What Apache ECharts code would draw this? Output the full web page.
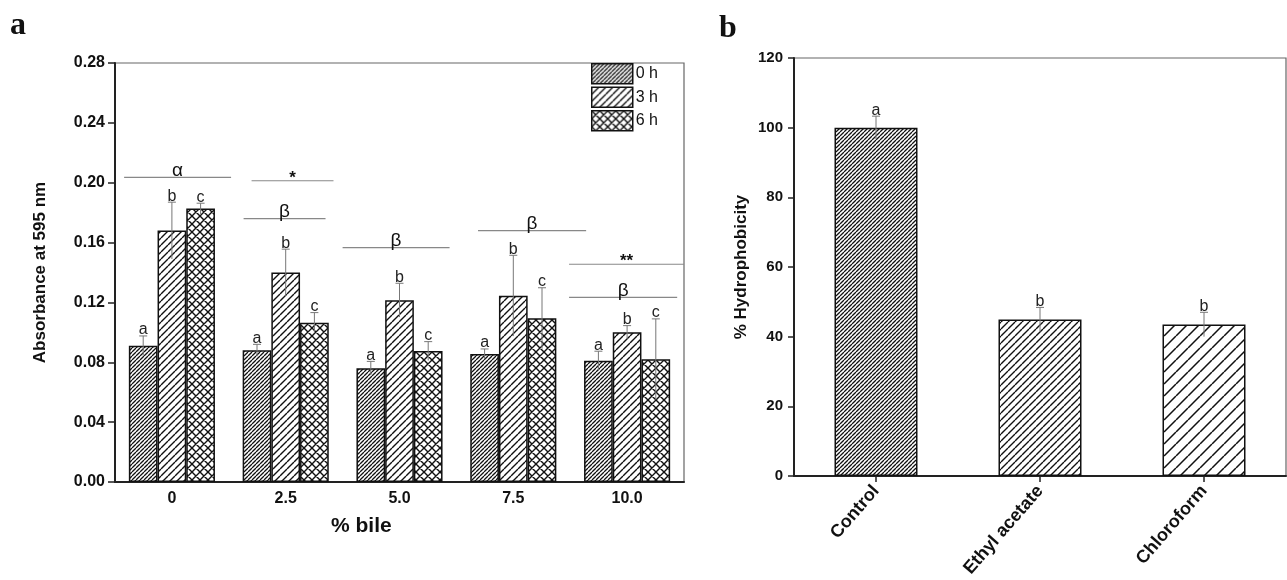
<!DOCTYPE html>
<html>
<head>
	<title>bile tolerance / hydrophobicity</title>
	<script src="https://cdn.jsdelivr.net/npm/echarts@6/dist/echarts.min.js"></script>
	<style>
	html, body { margin: 0; padding: 0; background: #fff; }
	#main { width: 1287px; height: 580px; }
	</style>
</head>
<body>
<div id="main"></div>
<script>
	// panel a data
	var bileLevels = ['0', '2.5', '5.0', '7.5', '10.0'];
	var timeNames = ['0 h', '3 h', '6 h'];
	var mean0h = [0.091, 0.088, 0.076, 0.0855, 0.081];
	var mean3h = [0.168, 0.140, 0.1215, 0.1245, 0.100];
	var mean6h = [0.1827, 0.1065, 0.0875, 0.1094, 0.082];
	var sd0h = [0.0066, 0.004, 0.0046, 0.0034, 0.0064];
	var sd3h = [0.019, 0.0156, 0.0113, 0.027, 0.0045];
	var sd6h = [0.0036, 0.0067, 0.0063, 0.0204, 0.027];
	var timeLetters = ['a', 'b', 'c'];
	// significance bars: [from, to, y, label]  (from/to in category units)
	var sigBars = [
		[-0.42, 0.52, 0.2036, 'α'],
		[0.70, 1.42, 0.2013, '*'],
		[0.63, 1.35, 0.1760, 'β'],
		[1.50, 2.44, 0.1566, 'β'],
		[2.69, 3.64, 0.1680, 'β'],
		[3.49, 4.50, 0.1455, '**'],
		[3.49, 4.44, 0.1234, 'β']
	];

	// panel b data
	var treatments = ['Control', 'Ethyl acetate', 'Chloroform'];
	var hydro = [100.0, 44.9, 43.5];
	var hydroSd = [3.3, 3.5, 3.5];
	var hydroLetters = ['a', 'b', 'b'];

	var meansA = [mean0h, mean3h, mean6h];
	var sdsA = [sd0h, sd3h, sd6h];

	function hatch(s, w, cross) {
		var c = document.createElement('canvas');
		c.width = s; c.height = s;
		var g = c.getContext('2d');
		g.fillStyle = '#fff';
		g.fillRect(0, 0, s, s);
		g.strokeStyle = '#111';
		g.lineWidth = w;
		g.beginPath();
		for (var o = -s; o <= s; o += s) {
			g.moveTo(o, s); g.lineTo(o + s, 0);
			if (cross) { g.moveTo(o, 0); g.lineTo(o + s, s); }
		}
		g.stroke();
		return { image: c, repeat: 'repeat' };
	}

	var fillsA = [hatch(4, 1.3), hatch(7, 1.4), hatch(8, 1.4, true)];
	var fillsB = [hatch(4, 1.3), hatch(7, 1.4), hatch(12, 1.5)];

	var BAR_A = 28.7;
	var BAR_B = 83;
	var myChart = echarts.init(document.getElementById('main'));

	function errRender(barW, offsetIdx, capW) {
		return function (params, api) {
			var c = api.value(0), v = api.value(1), sd = api.value(2);
			var top = api.coord([c, v + sd]);
			var bot = api.coord([c, v - sd]);
			var dx = (offsetIdx - 1) * barW;
			var x = top[0] + dx;
			return {
				type: 'group',
				children: [
					{ type: 'line', shape: { x1: x, y1: bot[1], x2: x, y2: top[1] }, style: { stroke: '#777', lineWidth: 1 } },
					{ type: 'line', shape: { x1: x - capW / 2, y1: top[1], x2: x + capW / 2, y2: top[1] }, style: { stroke: '#777', lineWidth: 1 } },
					{ type: 'text', x: x, y: top[1] + 2, style: { text: api.value(3), fontSize: 16, fontFamily: 'Liberation Sans, Arial, sans-serif', fill: '#222', align: 'center', verticalAlign: 'bottom' } }
				]
			};
		};
	}

	var series = [];
	timeNames.forEach(function (name, k) {
		series.push({
			name: name,
			type: 'bar',
			xAxisIndex: 0,
			yAxisIndex: 0,
			barWidth: BAR_A,
			barGap: '0%',
			data: meansA[k],
			itemStyle: { color: fillsA[k], borderColor: '#111', borderWidth: 1.5 },
			animation: false
		});
	});
	timeNames.forEach(function (name, k) {
		series.push({
			type: 'custom',
			xAxisIndex: 0,
			yAxisIndex: 0,
			silent: true,
			z: 3,
			data: meansA[k].map(function (v, i) { return [i, v, sdsA[k][i], timeLetters[k]]; }),
			renderItem: errRender(BAR_A, k, 8),
			animation: false
		});
	});
	series.push({
		type: 'custom',
		xAxisIndex: 1,
		yAxisIndex: 0,
		silent: true,
		z: 3,
		data: sigBars,
		renderItem: function (params, api) {
			var p0 = api.coord([api.value(0), api.value(2)]);
			var p1 = api.coord([api.value(1), api.value(2)]);
			var lab = api.value(3);
			var star = lab.indexOf('*') >= 0;
			return {
				type: 'group',
				children: [
					{ type: 'line', shape: { x1: p0[0], y1: p0[1], x2: p1[0], y2: p1[1] }, style: { stroke: '#888', lineWidth: 1.2 } },
					{ type: 'text', x: (p0[0] + p1[0]) / 2, y: p0[1] + (star ? 6 : 3), style: { text: lab, fontSize: star ? 17 : 19, fontWeight: star ? 'bold' : 'normal', fontFamily: 'Liberation Sans, Arial, sans-serif', fill: '#111', align: 'center', verticalAlign: 'bottom' } }
				]
			};
		},
		animation: false
	});
	series.push({
		type: 'bar',
		xAxisIndex: 2,
		yAxisIndex: 1,
		barWidth: BAR_B,
		data: hydro.map(function (v, i) {
			return { value: v, itemStyle: { color: fillsB[i] } };
		}),
		itemStyle: { borderColor: '#111', borderWidth: 1.5 },
		animation: false
	});
	series.push({
		type: 'custom',
		xAxisIndex: 2,
		yAxisIndex: 1,
		silent: true,
		z: 3,
		data: hydro.map(function (v, i) { return [i, v, hydroSd[i], hydroLetters[i]]; }),
		renderItem: errRender(0, 1, 8),
		animation: false
	});

	var tickFont = { fontFamily: 'Liberation Sans, Arial, sans-serif', fontWeight: 'bold', color: '#111' };

	var option = {
		animation: false,
		legend: {
			data: timeNames,
			orient: 'vertical',
			left: 591,
			top: 63,
			itemWidth: 41,
			itemHeight: 20,
			itemGap: 2,
			padding: 0,
			icon: 'rect',
			selectedMode: false,
			itemStyle: { borderColor: '#111', borderWidth: 1.5 },
			textStyle: { fontSize: 16, color: '#111', fontFamily: 'Liberation Sans, Arial, sans-serif', padding: [0, 0, 0, -2] }
		},
		grid: [
			{ left: 115, top: 63, width: 569, height: 419, show: true, borderColor: '#666', borderWidth: 1.2 },
			{ left: 794, top: 58, width: 492, height: 418, show: true, borderColor: '#666', borderWidth: 1.2 }
		],
		xAxis: [
			{
				type: 'category', gridIndex: 0, data: bileLevels,
				axisLine: { lineStyle: { color: '#222', width: 2 } },
				axisTick: { show: false },
				axisLabel: Object.assign({ fontSize: 16, margin: 9 }, tickFont)
			},
			{ type: 'value', gridIndex: 0, min: -0.5, max: 4.5, show: false },
			{
				type: 'category', gridIndex: 1, data: treatments,
				axisLine: { lineStyle: { color: '#222', width: 2 } },
				axisTick: { show: true, alignWithLabel: true, length: 6, lineStyle: { color: '#222', width: 1.5 } },
				axisLabel: Object.assign({ fontSize: 18, rotate: 49, margin: 12 }, tickFont)
			}
		],
		yAxis: [
			{
				type: 'value', gridIndex: 0, min: 0, max: 0.28, interval: 0.04,
				name: 'Absorbance at 595 nm', nameLocation: 'middle', nameGap: 66,
				nameTextStyle: Object.assign({ fontSize: 17 }, tickFont),
				splitLine: { show: false },
				axisLine: { show: true, onZero: false, lineStyle: { color: '#222', width: 2 } },
				axisTick: { show: true, length: 7, lineStyle: { color: '#222', width: 1.5 } },
				axisLabel: Object.assign({ fontSize: 16, margin: 10, formatter: function (v) { return v.toFixed(2); } }, tickFont)
			},
			{
				type: 'value', gridIndex: 1, min: 0, max: 120, interval: 20,
				name: '% Hydrophobicity', nameLocation: 'middle', nameGap: 44,
				nameTextStyle: Object.assign({ fontSize: 17 }, tickFont),
				splitLine: { show: false },
				axisLine: { show: true, onZero: false, lineStyle: { color: '#222', width: 2 } },
				axisTick: { show: true, length: 6, lineStyle: { color: '#222', width: 1.5 } },
				axisLabel: Object.assign({ fontSize: 15, margin: 11 }, tickFont)
			}
		],
		graphic: [
			{ type: 'text', left: 10, top: 10, style: { text: 'a', fontSize: 32, fontWeight: 'bold', fontFamily: 'Liberation Serif, Times New Roman, serif', fill: '#111' } },
			{ type: 'text', left: 719, top: 13, style: { text: 'b', fontSize: 32, fontWeight: 'bold', fontFamily: 'Liberation Serif, Times New Roman, serif', fill: '#111' } },
			{ type: 'text', left: 331, top: 516, style: { text: '% bile', fontSize: 21, fontWeight: 'bold', fontFamily: 'Liberation Sans, Arial, sans-serif', fill: '#111' } }
		],
		series: series
	};
	myChart.setOption(option);
</script>
</body>
</html>
